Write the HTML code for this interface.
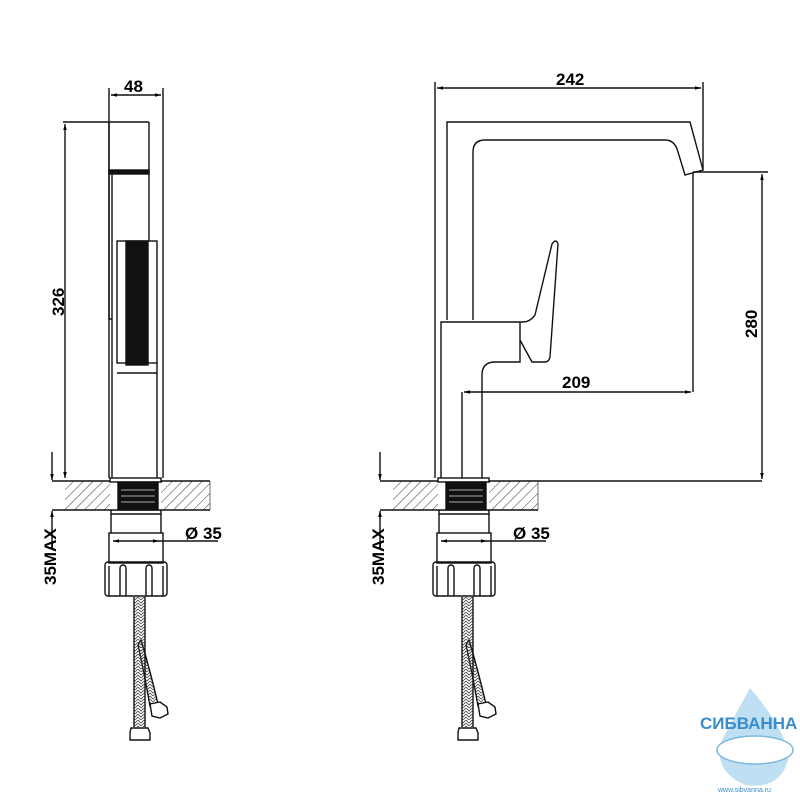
<!DOCTYPE html>
<html><head><meta charset="utf-8"><style>html,body{margin:0;padding:0;background:#fff}svg{display:block}
.t{font-family:"Liberation Sans",sans-serif;font-size:17px;font-weight:bold;fill:#000;stroke:none}
</style></head>
<body>
<svg width="800" height="800" viewBox="0 0 800 800" xmlns="http://www.w3.org/2000/svg">
<defs>
<pattern id="h" width="7" height="7" patternUnits="userSpaceOnUse" patternTransform="rotate(45)"><line x1="0" y1="0" x2="0" y2="7" stroke="#333" stroke-width="1"/></pattern>
<pattern id="br" width="6" height="6" patternUnits="userSpaceOnUse"><path d="M0 0 L3 3 L6 0 M0 3 L3 6 L6 3" stroke="#444" stroke-width="0.8" fill="none"/></pattern>
<marker id="a" viewBox="0 0 10 10" refX="10" refY="5" markerWidth="10" markerHeight="6" orient="auto-start-reverse" markerUnits="userSpaceOnUse"><path d="M0 2 L10 5 L0 8 z" fill="#000" stroke="none"/></marker>
<g id="base">
 <rect x="65" y="481" width="45" height="29" fill="url(#h)" stroke="none"/>
 <rect x="161" y="481" width="49" height="29" fill="url(#h)" stroke="none"/>
 <line x1="52" y1="481" x2="210" y2="481"/>
 <line x1="52" y1="510" x2="210" y2="510"/>
 <line x1="210" y1="481" x2="210" y2="510" stroke-width="0.6"/>
 <rect x="110" y="478" width="51" height="4" fill="#fff"/>
 <rect x="118" y="482" width="40" height="28" fill="#111"/>
 <line x1="121" y1="490" x2="155" y2="490" stroke="#777"/>
 <line x1="121" y1="496" x2="155" y2="496" stroke="#777"/>
 <line x1="121" y1="502" x2="155" y2="502" stroke="#777"/>
 <line x1="111" y1="510" x2="111" y2="533"/>
 <line x1="161" y1="510" x2="161" y2="533"/>
 <line x1="111" y1="514" x2="161" y2="514"/>
 <rect x="109" y="533" width="54" height="30"/>
 <line x1="113" y1="541" x2="159" y2="541" marker-start="url(#a)" marker-end="url(#a)"/>
 <line x1="159" y1="541" x2="218" y2="541"/>
 <text x="185" y="539" class="t">Ø 35</text>
 <rect x="105" y="562" width="62" height="34" rx="3"/>
 <path d="M120 596 V568 a3 3 0 0 1 6 0 V596 M146 596 V568 a3 3 0 0 1 6 0 V596 M109 596 V566 M163 596 V566"/>
 <path d="M141 640 Q150 670 158 704 L150 706 Q144 672 138 645 z" fill="url(#br)"/>
 <rect x="134" y="597" width="11" height="130" fill="url(#br)" stroke="none"/>
 <path d="M134 597 V727 M145 597 V727"/>
 <path d="M150 704 L160 702 L167 707 L168 714 L160 718 L152 716 z" fill="#fff"/>
 <path d="M131 728 H148 L150 733 V740 H130 V733 z" fill="#fff"/>
 <line x1="52" y1="452" x2="52" y2="480" marker-end="url(#a)"/>
 <line x1="52" y1="545" x2="52" y2="511" marker-end="url(#a)"/>
 <text class="t" transform="translate(56,585) rotate(-90)">35MAX</text>
</g>
</defs>
<g fill="none" stroke="#111" stroke-width="1.4">
<use href="#base"/>
<use href="#base" transform="translate(328,0)"/>

<!-- LEFT VIEW -->
<line x1="109" y1="88" x2="109" y2="478"/>
<line x1="163" y1="88" x2="163" y2="478"/>
<line x1="111" y1="95" x2="161" y2="95" marker-start="url(#a)" marker-end="url(#a)"/>
<text x="124" y="92" class="t">48</text>
<line x1="63" y1="122" x2="149" y2="122"/>
<line x1="65" y1="124" x2="65" y2="478" marker-start="url(#a)" marker-end="url(#a)"/>
<text class="t" transform="translate(64,316) rotate(-90)">326</text>
<path d="M109 122 V319 H112"/>
<line x1="149" y1="122" x2="149" y2="241"/>
<rect x="109" y="170" width="40" height="4" fill="#111"/>
<line x1="112" y1="174" x2="112" y2="478"/>
<rect x="117" y="241" width="40" height="122"/>
<rect x="126" y="241" width="22" height="124" fill="#111"/>
<line x1="117" y1="373" x2="157" y2="373"/>
<line x1="157" y1="363" x2="157" y2="478"/>

<!-- RIGHT VIEW -->
<line x1="435" y1="82" x2="435" y2="478"/>
<line x1="703" y1="82" x2="703" y2="170"/>
<line x1="437" y1="88" x2="701" y2="88" marker-start="url(#a)" marker-end="url(#a)"/>
<text x="556" y="85" class="t">242</text>
<path d="M447 320 V122 H690 L703 170 L685 175 L678 152 Q675 140 665 140 H485 Q473 140 473 152 V320"/>
<path d="M441 478 V322 H523 Q530 322 535 315 L552 244 Q556 238 558 244 L550 357 Q549 362 545 362 H532 L520 340 M520 322 V362 H495 Q482 362 482 375 V478"/>
<line x1="462" y1="392" x2="462" y2="478"/>
<line x1="464" y1="392" x2="691" y2="392" marker-start="url(#a)" marker-end="url(#a)"/>
<text x="562" y="388" class="t">209</text>
<line x1="693" y1="172" x2="693" y2="392"/>
<line x1="693" y1="172" x2="768" y2="172"/>
<line x1="762" y1="174" x2="762" y2="479" marker-start="url(#a)" marker-end="url(#a)"/>
<line x1="538" y1="481" x2="762" y2="481"/>
<text class="t" transform="translate(757,338) rotate(-90)">280</text>
</g>

<!-- logo -->
<path d="M750 688 Q735 715 722 740 Q712 770 745 785 Q780 790 788 760 Q790 735 750 688 z" fill="#bfe0f2"/>
<ellipse cx="755" cy="750" rx="38" ry="14" fill="#fff" stroke="#7ab8dc" stroke-width="1.5"/>
<text x="700" y="729" style="font-family:'Liberation Sans',sans-serif;font-size:17px;font-weight:bold;fill:#3a8ccc">СИБВАННА</text>
<text x="718" y="792" style="font-family:'Liberation Sans',sans-serif;font-size:7px;fill:#3a8ccc">www.sibvanna.ru</text>
</svg>
</body></html>
